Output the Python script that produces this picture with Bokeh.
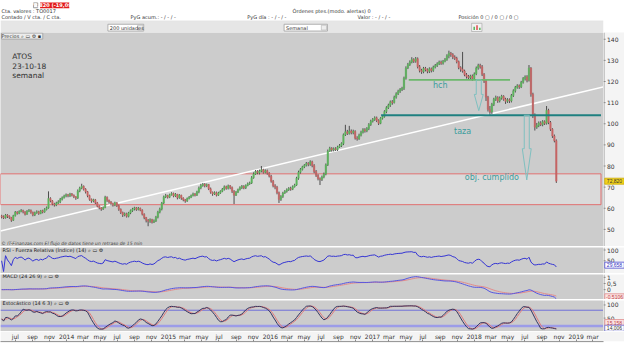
import numpy as np
import pandas as pd
from bokeh.plotting import figure
from bokeh.layouts import column, row
from bokeh.models import Range1d, LinearAxis, FixedTicker, Label, ColumnDataSource
from bokeh.core.properties import value
from bokeh.embed import file_html
from bokeh.resources import INLINE

# ---------------- data ----------------
symbol = "ATOS"
chart_date = "23-10-18"
period_name = "semanal"
first_week = "2013-05-13"
first_open = 56.4

closes = [
    56.0, 55.5, 56.8, 56.2, 55.6, 54.3, 56.5, 58.2, 57.6, 58.5,
    58.9, 58.3, 57.2, 58.6, 59.0, 58.1, 56.8, 57.9, 58.4, 57.5,
    58.8, 58.2, 59.4, 60.2, 64.6, 63.5, 62.0, 61.6, 62.4, 63.0,
    64.2, 65.0, 65.8, 66.4, 65.9, 66.8, 66.2, 65.5, 64.8, 68.2,
    69.6, 70.4, 69.0, 67.8, 66.0, 64.2, 63.4, 64.0, 62.6, 61.0,
    60.2, 59.6, 60.4, 65.2, 63.8, 63.0, 62.2, 61.5, 62.6, 61.2,
    59.5, 58.0, 56.8, 57.4, 56.2, 57.8, 58.9, 59.6, 60.2, 59.4,
    60.0, 59.1, 57.2, 55.6, 54.3, 53.8, 54.6, 53.4, 54.0, 55.8,
    58.2, 59.6, 62.5, 65.4, 66.0, 65.2, 66.4, 67.0, 65.8, 66.6,
    65.0, 66.2, 64.8, 64.0, 63.4, 64.6, 65.2, 66.0, 66.8, 66.2,
    67.8, 69.6, 70.8, 71.4, 70.6, 71.2, 69.2, 67.6, 66.8, 67.4,
    66.2, 67.2, 68.0, 69.0, 70.2, 69.4, 70.6, 69.8, 68.0, 66.2,
    67.6, 68.8, 69.8, 70.4, 69.6, 70.8, 71.6, 72.0, 74.5, 76.2,
    77.4, 76.8, 77.6, 78.2, 77.0, 77.8, 76.6, 75.2, 72.8, 70.6,
    70.0, 67.4, 64.2, 65.6, 67.2, 68.0, 68.8, 69.4, 69.0, 70.2,
    71.0, 74.2, 77.0, 78.4, 79.6, 80.4, 81.2, 80.8, 82.0, 80.2,
    77.4, 75.6, 74.0, 73.6, 74.8, 76.2, 80.6, 87.0, 88.4, 87.6,
    88.2, 87.8, 89.0, 89.6, 90.6, 94.8, 96.2, 95.4, 96.6, 95.8,
    96.4, 93.2, 92.8, 94.6, 96.0, 97.2, 96.6, 97.8, 99.6, 101.2,
    102.0, 102.8, 101.6, 100.2, 102.6, 103.4, 105.8, 107.6, 108.8, 110.4,
    110.0, 112.6, 114.2, 115.4, 116.2, 116.8, 121.6, 126.4, 128.0, 129.2,
    130.4, 129.6, 130.8, 127.0, 125.2, 124.6, 126.2, 125.6, 124.8, 126.0,
    125.2, 126.8, 127.6, 128.4, 129.2, 128.6, 129.6, 130.4, 132.2, 133.4,
    132.8, 131.6, 131.0, 129.4, 126.6, 125.8, 125.0, 123.2, 122.4, 121.8,
    122.6, 121.4, 123.6, 126.4, 127.6, 127.0, 123.4, 120.2, 112.6, 106.8,
    105.6, 109.2, 111.6, 112.4, 110.8, 112.2, 113.0, 111.6, 110.6, 111.4,
    110.8, 113.4, 115.6, 117.2, 118.0, 117.4, 119.6, 121.4, 122.2, 120.6,
    126.4, 114.0, 104.2, 98.4, 99.2, 100.4, 99.6, 101.0, 100.2, 106.4,
    100.6, 97.4, 94.2, 92.0, 72.82,
]
highs = [
    56.9, 56.6, 57.3, 57.2, 56.6, 55.9, 56.9, 58.7, 58.6, 59.0,
    59.6, 59.3, 58.6, 59.1, 59.6, 59.4, 58.4, 58.4, 59.0, 58.8,
    59.2, 59.3, 60.0, 60.8, 68.0, 65.2, 63.9, 62.6, 63.1, 63.8,
    64.9, 65.6, 66.4, 67.0, 66.8, 67.3, 67.2, 66.5, 65.7, 68.9,
    70.2, 71.6, 70.8, 69.5, 68.2, 66.4, 64.6, 64.5, 64.4, 63.0,
    61.4, 60.6, 60.9, 65.9, 65.6, 64.1, 63.4, 62.6, 63.1, 62.9,
    61.7, 59.9, 58.4, 58.0, 57.9, 58.3, 59.4, 60.2, 60.7, 60.6,
    60.6, 60.3, 59.5, 57.6, 55.9, 54.9, 55.2, 55.0, 54.7, 56.4,
    58.8, 60.3, 63.0, 66.0, 66.8, 66.4, 66.9, 67.6, 67.4, 67.2,
    66.8, 66.7, 66.4, 65.2, 64.4, 65.1, 65.8, 66.5, 67.4, 67.2,
    68.3, 70.3, 71.6, 72.0, 71.9, 71.7, 71.5, 69.8, 67.9, 68.0,
    67.9, 67.8, 68.5, 69.6, 70.8, 70.7, 71.2, 71.0, 70.3, 68.6,
    68.2, 69.3, 70.4, 71.0, 70.9, 71.3, 72.2, 72.6, 75.2, 77.0,
    78.1, 78.0, 78.3, 80.0, 78.7, 78.4, 78.3, 77.1, 75.8, 73.4,
    71.4, 70.6, 67.9, 66.2, 67.8, 68.6, 69.4, 70.0, 70.2, 70.8,
    71.6, 74.9, 77.8, 79.0, 80.1, 80.9, 81.9, 81.8, 82.7, 82.5,
    80.9, 78.1, 76.1, 74.6, 75.5, 76.9, 81.2, 87.8, 89.1, 88.9,
    88.8, 88.9, 89.6, 90.4, 91.2, 95.4, 99.5, 97.1, 99.0, 97.3,
    97.2, 96.9, 94.1, 95.3, 96.7, 97.9, 97.9, 98.4, 100.3, 101.9,
    102.7, 103.5, 103.4, 102.1, 103.1, 104.0, 106.4, 108.3, 109.5, 111.0,
    111.2, 113.3, 114.9, 116.1, 116.9, 117.5, 122.3, 127.2, 128.8, 130.0,
    131.5, 131.0, 131.6, 131.4, 127.8, 126.0, 126.9, 126.9, 126.2, 126.7,
    126.6, 127.5, 128.3, 129.1, 129.9, 129.9, 130.2, 131.1, 132.9, 134.6,
    134.0, 133.4, 132.4, 131.7, 129.9, 127.2, 134.0, 125.6, 124.0, 123.1,
    123.2, 123.3, 124.3, 127.1, 128.4, 128.4, 127.8, 124.0, 120.9, 113.2,
    108.4, 109.9, 112.3, 113.3, 113.0, 112.9, 113.7, 113.5, 112.3, 112.1,
    112.0, 114.1, 116.3, 117.9, 118.7, 118.6, 120.3, 122.1, 122.9, 123.0,
    127.8, 126.8, 114.7, 104.9, 100.4, 101.1, 101.2, 101.7, 101.6, 108.4,
    107.1, 101.3, 97.9, 94.9, 92.6,
]
lows = [
    55.2, 54.9, 55.1, 55.4, 55.0, 53.6, 54.0, 56.1, 57.0, 57.2,
    58.1, 57.6, 56.6, 56.9, 58.2, 57.4, 56.2, 56.3, 57.4, 56.9,
    57.2, 57.6, 57.9, 59.0, 59.8, 62.8, 61.4, 60.8, 61.0, 62.0,
    62.4, 63.7, 64.6, 65.2, 65.2, 65.3, 65.6, 64.8, 64.0, 64.4,
    67.6, 69.0, 68.4, 67.0, 65.2, 63.6, 62.6, 62.8, 62.0, 60.4,
    59.5, 58.8, 59.2, 60.0, 63.0, 62.2, 61.4, 60.8, 61.0, 60.6,
    58.8, 57.3, 55.9, 56.2, 55.6, 55.7, 57.2, 58.3, 59.0, 58.8,
    59.0, 58.6, 56.6, 54.8, 53.3, 51.5, 53.1, 52.8, 53.0, 53.5,
    55.2, 57.6, 59.0, 62.0, 64.8, 64.6, 64.8, 66.0, 65.2, 65.3,
    64.2, 64.5, 64.0, 63.3, 62.6, 63.0, 64.2, 64.8, 65.6, 65.6,
    65.8, 67.1, 69.0, 70.2, 69.9, 70.0, 68.6, 66.9, 65.9, 66.3,
    65.6, 65.8, 66.8, 67.6, 68.4, 68.8, 68.9, 69.0, 67.2, 62.0,
    65.8, 67.2, 68.4, 69.1, 69.0, 69.1, 70.4, 71.1, 71.5, 74.0,
    75.8, 76.1, 76.0, 77.0, 76.4, 76.5, 75.9, 74.6, 72.1, 69.9,
    69.0, 66.6, 62.5, 63.5, 64.9, 66.8, 67.4, 68.2, 68.3, 68.6,
    69.8, 70.6, 73.5, 76.4, 77.9, 79.0, 79.8, 79.9, 80.1, 79.4,
    76.6, 74.8, 73.2, 71.0, 72.9, 74.2, 75.6, 80.0, 86.7, 86.8,
    86.9, 87.1, 87.1, 88.6, 89.0, 89.9, 94.2, 94.7, 94.9, 95.0,
    95.0, 92.5, 92.0, 92.4, 94.0, 95.4, 95.8, 96.0, 97.0, 99.0,
    100.6, 101.4, 100.8, 99.4, 99.8, 102.0, 102.9, 105.0, 107.0, 108.0,
    109.0, 109.6, 111.9, 113.6, 114.6, 115.5, 116.0, 120.9, 125.9, 127.4,
    128.6, 128.8, 128.9, 126.2, 124.3, 123.6, 123.9, 124.8, 123.9, 124.0,
    124.3, 124.6, 126.2, 126.9, 127.8, 127.9, 128.0, 129.1, 129.8, 131.0,
    131.7, 130.6, 130.2, 128.6, 125.8, 124.6, 124.2, 122.5, 121.4, 120.8,
    121.0, 120.4, 120.9, 123.0, 125.6, 126.1, 122.6, 119.3, 110.8, 105.8,
    104.2, 104.6, 108.4, 110.8, 109.9, 110.1, 111.4, 110.9, 109.4, 109.9,
    109.8, 110.1, 112.7, 114.8, 116.6, 116.5, 116.9, 119.0, 120.5, 119.6,
    120.0, 112.8, 102.7, 96.8, 97.6, 98.4, 98.9, 98.8, 99.4, 99.6,
    99.8, 96.6, 93.3, 91.2, 72.0,
]

price_ticks = [50, 60, 70, 80, 90, 100, 110, 120, 130, 140]
price_tick_labels = ["50", "60", "70", "80", "90", "100", "110", "120", "130", "140"]
rsi_ticks, rsi_tick_labels = [50, 100], ["50", "100"]
macd_ticks, macd_tick_labels = [0, 0.5, 1], ["0", "0,5", "1"]
stoch_ticks, stoch_tick_labels = [50, 100], ["50", "100"]
stoch_levels = [20, 80]
month_names = {3: "mar", 5: "may", 7: "jul", 9: "sep", 11: "nov"}
axis_first_tick, axis_last_tick = "2013-07-01", "2019-03-01"

zone_low, zone_high = 61.7, 76.3
neck_dates, neck_price = ["2017-05-11", "2018-05-09"], 120.8
cup_dates, cup_price = ["2017-02-01", "2019-03-31"], 104.0
trend_dates, trend_prices = ["2013-05-09", "2019-04-09"], [49.2, 117.5]
arrow1 = dict(center="2018-01-17", top=120.8, head=113.9, tip=106.2, shaft=9, half=16)
arrow2 = dict(center="2018-07-08", top=104.0, head=88.2, tip=73.4, shaft=9, half=16)

last_price_text = "72,820"
rsi_box_text, rsi_box_val = "29,658", 29.658
macd_box_text, macd_box_val = "-0,5106", -0.58
stoch_box1_text, stoch_box1_val = "15,158", 33.0
stoch_box2_text, stoch_box2_val = "14,006", 11.5

# ---------------- helpers ----------------
def ms(d):
    return pd.Timestamp(d).value / 1e6

DAY = 86400000.0
W, RB = 624, 21
PW = W - RB
X0, X1 = ms("2013-05-09"), ms("2019-04-09")
xr = Range1d(X0, X1)
FONTNAME = "DejaVu Sans"
FONT = value(FONTNAME)
BOXFONT = value("Liberation Sans")

dates = pd.date_range(first_week, periods=len(closes), freq="7D")
xs = [ms(d) for d in dates]
c = np.array(closes)
o = np.array([first_open] + closes[:-1])
body_top = np.maximum(o, c)
body_bot = np.minimum(o, c)
h = np.maximum(np.array(highs), body_top)
l = np.minimum(np.array(lows), body_bot)
colors = ["#5cb55c" if cc >= oo else "#c96464" for oo, cc in zip(o, c)]

# indicators derived from the closes
s = pd.Series(c)
dlt = s.diff().fillna(0.0)
up = dlt.clip(lower=0).ewm(alpha=1 / 14, adjust=True).mean()
dn = (-dlt).clip(lower=0).ewm(alpha=1 / 14, adjust=True).mean()
rsi = (100 - 100 / (1 + up / dn.replace(0, np.nan))).fillna(50.0)
macd = s.ewm(span=24, adjust=False).mean() - s.ewm(span=26, adjust=False).mean()
signal = macd.ewm(span=9, adjust=False).mean()
hh = pd.Series(h).rolling(14, min_periods=1).max()
ll = pd.Series(l).rolling(14, min_periods=1).min()
fast_k = 100 * (s - ll) / (hh - ll)
slow_k = fast_k.rolling(6, min_periods=1).mean()
slow_d = slow_k.rolling(3, min_periods=1).mean()


def bare(width, hgt, x_range, y_range, top_border=0):
    p = figure(width=width, height=hgt, x_range=x_range, y_range=y_range,
               x_axis_location=None, y_axis_location=None,
               output_backend="svg", toolbar_location=None)
    p.min_border_left = 0
    p.min_border_right = 0
    p.min_border_bottom = 0
    p.min_border_top = top_border
    p.outline_line_color = None
    p.border_fill_color = "#ffffff"
    p.grid.visible = False
    return p


def panel(hgt, y0, y1, top_border=0):
    p = bare(PW, hgt, xr, Range1d(y0, y1), top_border)
    p.background_fill_color = "#cccccc"
    return p


def side(p, ticks, labels, boxes):
    yr = p.y_range
    sf = bare(RB, p.height, Range1d(0, RB), yr, p.min_border_top)
    sf.background_fill_color = "#f4f4f4"
    sf.segment(x0=[0] * len(ticks), x1=[2] * len(ticks), y0=ticks, y1=ticks,
               line_color="#777777", line_width=1)
    sf.segment(x0=[0.5], x1=[0.5], y0=[yr.start], y1=[yr.end], line_color="#9a9a9a", line_width=1)
    sf.text(x=[3.5] * len(ticks), y=ticks, text=labels, text_font=FONT, text_font_size="6px",
            text_color="#333333", text_baseline="middle")
    for txt, val, bg, border, color in boxes:
        sf.rect(x=[11], y=[val], width=[19.5], height=[6], height_units="screen",
                fill_color=bg, line_color=border, line_width=0.8)
        sf.text(x=[11], y=[val], text=[txt], text_font=BOXFONT, text_font_size="5px",
                text_color=color, text_align="center", text_baseline="middle")
    return row(p, sf, spacing=0)


def panel_title(p, txt, y):
    p.add_layout(Label(x=X0, y=y, text=txt, x_offset=2, text_baseline="middle",
                       text_font=FONTNAME, text_font_size="5px", text_color="#222222"))


# ---------------- header ----------------
hdr = bare(W, 32, Range1d(0, 640), Range1d(33, 0))
hdr.background_fill_color = "#ffffff"
hdr.quad(left=[0], right=[640], top=[21.5], bottom=[33], fill_color="#e6e6e6", line_color=None)
hdr.quad(left=[0], right=[640], top=[21], bottom=[21.5], fill_color="#cfcfcf", line_color=None)
hdr.quad(left=[35], right=[39.5], top=[2.5], bottom=[7.5], fill_color="#f4f4f4", line_color="#999999")
hdr.quad(left=[42], right=[73], top=[2], bottom=[8], fill_color="#e21b1b", line_color=None)
hdr.text(x=[57.5], y=[5], text=["72,820 (-19,09%)"], text_font=FONT, text_font_size="5px",
         text_color="white", text_align="center", text_baseline="middle", text_font_style="bold")
hdr_texts = [
    (1, 11, "Cta. valores : TO0017"), (310, 11, "Órdenes ptes.(modo. alertas) 0"),
    (1, 17.5, "Contado / V cta. / C cta."), (138, 17.5, "PyG acum.: - / - / -"),
    (262, 17.5, "PyG día : - / - / -"), (379, 17.5, "Valor : - / - / -"),
    (486, 17.5, "Posición 0 ▢ / 0 ▢ / 0 ▢"),
]
hdr.text(x=[t[0] for t in hdr_texts], y=[t[1] for t in hdr_texts], text=[t[2] for t in hdr_texts],
         text_font=FONT, text_font_size="5px", text_color="#333333", text_baseline="middle")
hdr.quad(left=[114, 301], right=[152, 347], top=[24.5, 24.5], bottom=[31.5, 31.5],
         fill_color="#ffffff", line_color="#a0a0a0", line_width=0.8)
hdr.quad(left=[145.5, 340.5], right=[151, 346], top=[25.5, 25.5], bottom=[30.5, 30.5],
         fill_color="#eeeeee", line_color="#b0b0b0", line_width=0.6)
hdr.text(x=[116, 303], y=[28, 28], text=["200 unidades", "Semanal"], text_font=FONT,
         text_font_size="5px", text_color="#333333", text_baseline="middle")
hdr.quad(left=[500], right=[511], top=[23.5], bottom=[32], fill_color="#f2f2f2", line_color="#a0a0a0", line_width=0.6)
hdr.quad(left=[502, 505, 508], right=[503.5, 506.5, 509.5], top=[27, 25.5, 28], bottom=[30.5, 30.5, 30.5],
         fill_color=["#4caf50", "#e04040", "#4caf50"], line_color=None)

# ---------------- main price panel ----------------
pm = panel(214, 41.9, 143.2)
pm.quad(left=[X0], right=[ms("2019-03-31")], bottom=[zone_low], top=[zone_high],
        fill_color="#dadada", line_color="#e07070", line_width=1)
pm.line(x=[ms(d) for d in trend_dates], y=trend_prices, line_color="white", line_width=1.5)
src = ColumnDataSource(dict(x=xs, top=body_top, bot=body_bot, h=h, l=l, color=colors))
pm.segment(x0="x", y0="l", x1="x", y1="h", source=src, line_color="#4d4d4d", line_width=1)
pm.vbar(x="x", width=5 * DAY, top="top", bottom="bot", source=src,
        fill_color="color", line_color="color", line_width=0.5)
pm.line(x=[ms(d) for d in neck_dates], y=[neck_price] * 2, line_color="#6cb86c", line_width=1.8)
pm.line(x=[ms(d) for d in cup_dates], y=[cup_price] * 2, line_color="#1f8080", line_width=2)
for a in (arrow1, arrow2):
    cx = ms(a["center"])
    sh, hw = a["shaft"] * DAY, a["half"] * DAY
    pm.patch(x=[cx - sh, cx + sh, cx + sh, cx + hw, cx, cx - hw, cx - sh],
             y=[a["top"], a["top"], a["head"], a["head"], a["tip"], a["head"], a["head"]],
             fill_alpha=0, line_color="#7fc0c0", line_width=1)
pm.text(x=[ms("2017-09-01"), ms("2017-11-20"), ms("2018-03-05")], y=[118.0, 96.3, 74.4],
        text=["hch", "taza", "obj. cumplido"], text_font=FONT, text_font_size="8px",
        text_color="#3c9c9c", text_align="center", text_baseline="middle")
pm.text(x=[ms("2013-06-20")] * 3, y=[131.9, 127.4, 122.9], text=[symbol, chart_date, period_name],
        text_font=FONT, text_font_size="7.5px", text_color="#303030", text_baseline="middle")
pm.text(x=[ms("2013-05-12")], y=[43.3], text=["© IT-Finanzas.com  El flujo de datos tiene un retraso de 15 min"],
        text_font=FONT, text_font_size="4.5px", text_font_style="italic", text_color="#404040",
        text_baseline="middle")
pm.add_layout(Label(x=X0, y=141.5, text="Precios  ⌕ ▭ ⚙ ▪", x_offset=1, text_baseline="middle",
                    text_font=FONTNAME, text_font_size="5px", text_color="#333333",
                    background_fill_color="#ececec", border_line_color="#a8a8a8"))
row_main = side(pm, price_ticks, price_tick_labels,
                [(last_price_text, c[-1], "#f3d31c", "#c8a800", "#333333")])

# ---------------- RSI panel ----------------
pr = panel(27, -9, 111.6, top_border=1)
pr.line(x=xs, y=rsi.values, line_color="#3434d4", line_width=1)
panel_title(pr, "RSI - Fuerza Relativa (Índice) (14)  ⌕ ▭ ⚙", 102)
row_rsi = side(pr, rsi_ticks, rsi_tick_labels,
               [(rsi_box_text, rsi_box_val, "#ffffff", "#4a4ad0", "#3030c0")])

# ---------------- MACD panel ----------------
pc = panel(26, -0.80, 1.23, top_border=1)
pc.line(x=xs, y=signal.values, line_color="#e38a8a", line_width=1)
pc.line(x=xs, y=macd.values, line_color="#5656e0", line_width=1)
panel_title(pc, "MACD (24 26 9)  ⌕ ▭ ⚙", 1.07)
row_macd = side(pc, macd_ticks, macd_tick_labels,
                [(macd_box_text, macd_box_val, "#fbe3e3", "#e08a8a", "#c04040")])

# ---------------- Stochastic panel ----------------
ps = panel(32, -1, 117, top_border=1)
ps.line(x=[X0, X1], y=[stoch_levels[1]] * 2, line_color="#7070d8", line_width=1)
ps.line(x=[X0, X1], y=[stoch_levels[0]] * 2, line_color="#9c9ce8", line_width=2.5)
ps.line(x=xs, y=slow_d.values, line_color="#e07a7a", line_width=1)
ps.line(x=xs, y=slow_k.values, line_color="#34345e", line_width=1)
panel_title(ps, "Estocástico (14 6 3)  ⌕ ▭ ⚙", 107)
row_stoch = side(ps, stoch_ticks, stoch_tick_labels,
                 [(stoch_box1_text, stoch_box1_val, "#fbe3e3", "#e08a8a", "#c04040"),
                  (stoch_box2_text, stoch_box2_val, "#ffffff", "#6a6ad0", "#333333")])

# ---------------- time axis ----------------
tick_dates = pd.date_range(axis_first_tick, axis_last_tick, freq="2MS")
tick_ms = [ms(d) for d in tick_dates]
tick_lab = {ms(d): (str(d.year) if d.month == 1 else month_names[d.month]) for d in tick_dates}
pa = bare(W, 10, xr, Range1d(0, 1))
pa.min_border_right = RB
pa.background_fill_color = "#f4f4f4"
pa.border_fill_color = "#f4f4f4"
bx = LinearAxis(ticker=FixedTicker(ticks=tick_ms), major_label_overrides=tick_lab)
bx.major_label_text_font_size = "6px"
bx.major_label_text_font = FONTNAME
bx.major_label_text_color = "#333333"
bx.major_tick_out = 2
bx.major_tick_in = 0
bx.minor_tick_out = 0
bx.major_tick_line_color = "#888888"
bx.axis_line_color = "#9a9a9a"
bx.major_label_standoff = 0
pa.add_layout(bx, "above")

layout = column(hdr, row_main, row_rsi, row_macd, row_stoch, pa, spacing=0)
open("out.html", "w").write(file_html(layout, INLINE, "ATOS semanal"))
